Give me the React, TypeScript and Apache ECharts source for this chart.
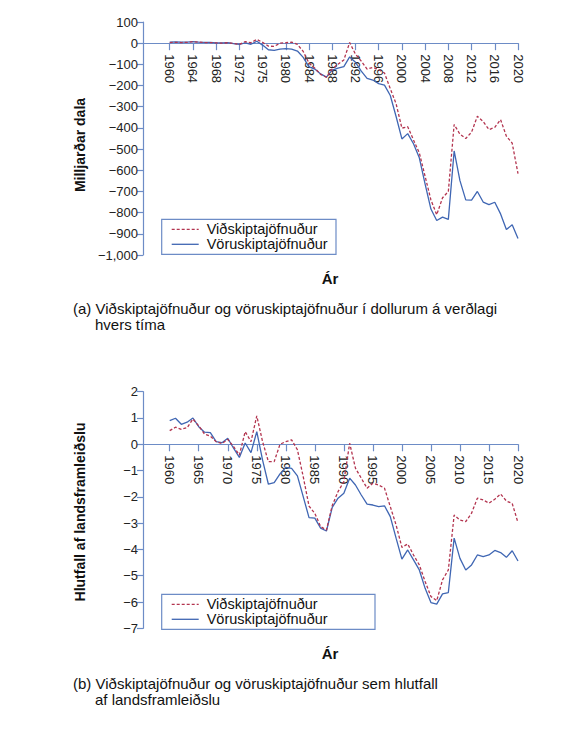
import React, { useEffect, useRef } from "react";
import * as echarts from "echarts";

// years on the x axis (both panels)
const years = Array.from({ length: 61 }, (_, i) => 1960 + i);

// (a) billions of dollars
const currentBn = [
  3, 4, 3, 4, 7, 5, 3, 3, 1, 0,
  2, -1, -6, 7, 2, 18, 4, -14, -15, 0,
  2, 5, -6, -39, -94, -118, -147, -161, -121, -99,
  -79, 3, -52, -85, -122, -114, -125, -141, -215, -286,
  -401, -394, -457, -518, -629, -740, -810, -730, -700, -384,
  -430, -450, -420, -345, -370, -408, -397, -361, -439, -472, -616,
];
const goodsBn = [
  5, 6, 5, 5, 7, 5, 4, 4, 1, 1,
  3, -2, -6, 1, -5, 9, -9, -31, -34, -28,
  -26, -28, -37, -67, -112, -122, -145, -160, -127, -118,
  -111, -65, -90, -132, -166, -174, -191, -198, -247, -346,
  -452, -427, -475, -541, -665, -783, -837, -821, -832, -509,
  -649, -740, -741, -700, -750, -762, -751, -806, -880, -857, -922,
];

// (b) percent of GDP
const currentPct = [
  0.52, 0.65, 0.57, 0.63, 0.96, 0.7, 0.39, 0.31, 0.1, 0.03,
  0.19, -0.09, -0.41, 0.48, 0.1, 1.08, 0.1, -0.66, -0.66, 0.0,
  0.1, 0.17, -0.21, -1.23, -2.35, -2.63, -3.13, -3.26, -2.33, -1.8,
  -1.42, 0.04, -0.91, -1.29, -1.67, -1.48, -1.55, -1.67, -2.37, -3.07,
  -3.92, -3.79, -4.21, -4.59, -5.22, -5.79, -5.95, -5.16, -4.78, -2.69,
  -2.88, -2.94, -2.62, -2.05, -2.12, -2.24, -2.09, -1.89, -2.16, -2.25, -2.98,
];
const goodsPct = [
  0.9, 0.99, 0.76, 0.84, 1.0, 0.67, 0.46, 0.44, 0.1, 0.06,
  0.23, -0.15, -0.5, 0.05, -0.32, 0.48, -0.6, -1.52, -1.46, -1.13,
  -0.88, -0.92, -1.2, -1.99, -2.79, -2.81, -3.19, -3.3, -2.4, -2.05,
  -1.86, -1.29, -1.55, -1.93, -2.28, -2.31, -2.37, -2.34, -2.75, -3.57,
  -4.37, -4.02, -4.4, -4.78, -5.48, -6.02, -6.08, -5.69, -5.64, -3.57,
  -4.34, -4.78, -4.59, -4.21, -4.27, -4.21, -4.04, -4.12, -4.3, -4.05, -4.44,
];

// tick labels (the original figure prints 1975 at the 1976 tick)
const topTickYears = [1960, 1964, 1968, 1972, 1976, 1980, 1984, 1988, 1992, 1996, 2000, 2004, 2008, 2012, 2016, 2020];
const topTickLabels = ["1960", "1964", "1968", "1972", "1975", "1980", "1984", "1988", "1992", "1996", "2000", "2004", "2008", "2012", "2016", "2020"];
const bottomTickYears = [1960, 1965, 1970, 1975, 1980, 1985, 1990, 1995, 2000, 2005, 2010, 2015, 2020];
const bottomTickLabels = ["1960", "1965", "1970", "1975", "1980", "1985", "1990", "1995", "2000", "2005", "2010", "2015", "2020"];

const seriesNames = ["Viðskiptajöfnuður", "Vöruskiptajöfnuður"];

const FONT = "Liberation Sans, Arial, sans-serif";
const AXIS = "#6d8cc6";
const RED = "#b3344f";
const BLUE = "#3f66b3";
const X_MIN = 1955.4;
const X_MAX = 2020;

const fmtY = (v: number) =>
  v === 0 ? "0" : v < 0 ? "\u2212" + Math.abs(v).toLocaleString("en-US") : String(v);

// main x axis of a panel: only carries the scale
const hiddenX = (grid: number) => ({
  type: "value",
  gridIndex: grid,
  min: X_MIN,
  max: X_MAX,
  show: false,
});

// x axis drawn along the zero line: a thin strip grid whose top edge is y = 0
const zeroLineX = (grid: number, ticks: number[], labels: string[]) => ({
  type: "value",
  gridIndex: grid,
  position: "top",
  min: X_MIN,
  max: X_MAX,
  axisLine: { show: true, onZero: false, lineStyle: { color: AXIS, width: 1.2 } },
  axisTick: { show: true, inside: true, customValues: ticks, length: 7, lineStyle: { color: AXIS, width: 1.2 } },
  axisLabel: {
    inside: true,
    customValues: ticks,
    rotate: 90,
    margin: 11,
    fontSize: 13,
    fontFamily: FONT,
    color: "#222",
    formatter: (v: number) => labels[ticks.indexOf(v)] ?? "",
  },
  splitLine: { show: false },
});

const yAxisFor = (grid: number, min: number, max: number, interval: number) => ({
  type: "value",
  gridIndex: grid,
  min,
  max,
  interval,
  axisLine: { show: true, onZero: false, lineStyle: { color: AXIS, width: 1.2 } },
  axisTick: { show: true, length: 6, lineStyle: { color: AXIS, width: 1.2 } },
  axisLabel: { margin: 5, fontSize: 13, fontFamily: FONT, color: "#222", formatter: fmtY },
  splitLine: { show: false },
});

const hiddenY = (grid: number) => ({ type: "value", gridIndex: grid, min: 0, max: 1, show: false });

const lineSeries = (name: string, grid: number, values: number[], color: string, dashed: boolean) => ({
  type: "line",
  name,
  xAxisIndex: grid,
  yAxisIndex: grid,
  data: years.map((y, i) => [y, values[i]]),
  symbol: "none",
  lineStyle: { color, width: 1.3, type: dashed ? [3, 2] : "solid" },
  itemStyle: { color },
});

const text = (x: number, y: number, t: string, size: number, bold: boolean, rotation = 0, align = "left") => ({
  type: "text",
  x,
  y,
  rotation,
  style: {
    text: t,
    fontSize: size,
    fontWeight: bold ? "bold" : "normal",
    fontFamily: FONT,
    fill: "#111",
    textAlign: align,
    textVerticalAlign: "middle",
  },
});

const legendBox = (x: number, y: number, w: number) => [
  {
    type: "rect",
    shape: { x, y, width: w, height: 35 },
    style: { fill: "none", stroke: AXIS, lineWidth: 1.2 },
  },
  {
    type: "line",
    shape: { x1: x + 10, y1: y + 10, x2: x + 37, y2: y + 10 },
    style: { stroke: RED, lineWidth: 1.3, lineDash: [3, 2] },
  },
  {
    type: "line",
    shape: { x1: x + 10, y1: y + 25, x2: x + 37, y2: y + 25 },
    style: { stroke: BLUE, lineWidth: 1.3 },
  },
  text(x + 45, y + 10, seriesNames[0], 14.5, false),
  text(x + 45, y + 25, seriesNames[1], 14.5, false),
];

const App: React.FC = () => {
  const chartRef = useRef<HTMLDivElement>(null);

  useEffect(() => {
    if (!chartRef.current) return;
    const chart = echarts.init(chartRef.current, undefined, { renderer: "svg" });

    // zero lines: top panel 100..-1000 over 233px, bottom 2..-7 over 236.6px
    const topZero = 22 + (233 * 100) / 1100;
    const bottomZero = 391.7 + (236.6 * 2) / 9;

    chart.setOption({
      animation: false,
      backgroundColor: "#fff",
      grid: [
        { left: 143, top: 22, width: 375, height: 233 },
        { left: 143, top: 391.7, width: 375, height: 236.6 },
        { left: 143, top: topZero, width: 375, height: 10 },
        { left: 143, top: bottomZero, width: 375, height: 10 },
      ],
      xAxis: [
        hiddenX(0),
        hiddenX(1),
        zeroLineX(2, topTickYears, topTickLabels),
        zeroLineX(3, bottomTickYears, bottomTickLabels),
      ],
      yAxis: [yAxisFor(0, -1000, 100, 100), yAxisFor(1, -7, 2, 1), hiddenY(2), hiddenY(3)],
      series: [
        lineSeries(seriesNames[1], 0, goodsBn, BLUE, false),
        lineSeries(seriesNames[0], 0, currentBn, RED, true),
        lineSeries(seriesNames[1], 1, goodsPct, BLUE, false),
        lineSeries(seriesNames[0], 1, currentPct, RED, true),
      ],
      graphic: [
        ...legendBox(161.7, 219.3, 174.3),
        ...legendBox(161.7, 594.3, 213.3),
        text(80, 145, "Milljarðar dala", 14, true, Math.PI / 2, "center"),
        text(80, 512, "Hlutfall af landsframleiðslu", 14, true, Math.PI / 2, "center"),
        text(330, 278, "Ár", 15, true, 0, "center"),
        text(330, 653, "Ár", 15, true, 0, "center"),
        text(73, 308, "(a) Viðskiptajöfnuður og vöruskiptajöfnuður í dollurum á verðlagi", 15, false),
        text(95, 324, "hvers tíma", 15, false),
        text(73, 683, "(b) Viðskiptajöfnuður og vöruskiptajöfnuður sem hlutfall", 15, false),
        text(95, 699, "af landsframleiðslu", 15, false),
      ],
    });

    return () => chart.dispose();
  }, []);

  return (
    <div
      ref={chartRef}
      style={{ position: "absolute", left: 0, top: 0, width: 586, height: 749, background: "#fff" }}
    />
  );
};

export default App;
